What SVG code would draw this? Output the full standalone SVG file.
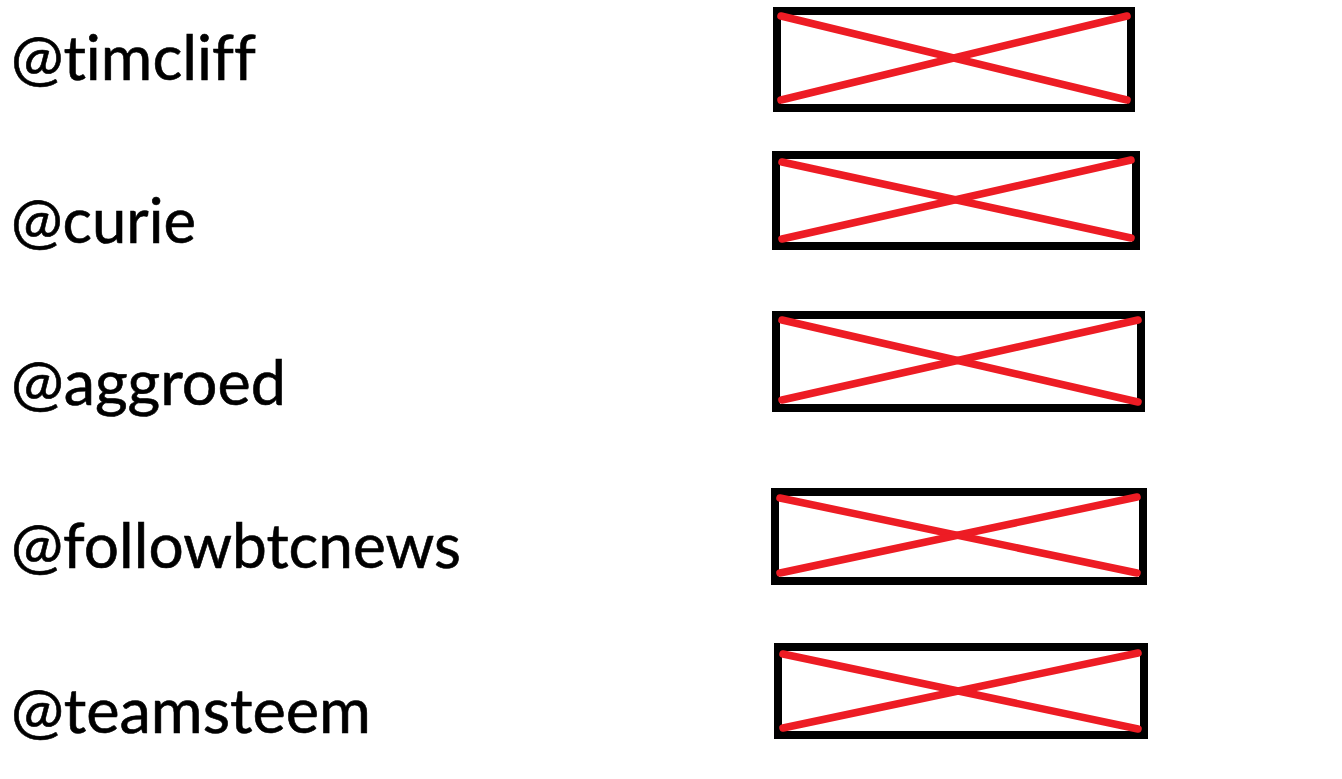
<svg xmlns="http://www.w3.org/2000/svg" width="1342" height="779" viewBox="0 0 1342 779">
<style>
.lbl{font-family:Lato,"Open Sans","Liberation Sans",sans-serif;font-size:61px;fill:#000;stroke:#000;stroke-width:0.6;font-variant-ligatures:none;font-feature-settings:"liga" 0,"dlig" 0}
.box{fill:#fff;stroke:#000;stroke-width:8}
.x{stroke:#ED1C24;stroke-width:7.5;stroke-linecap:round;fill:none}
</style>
<rect width="1342" height="779" fill="#fff"/>
<g id="labels">
<text id="t1" class="lbl" x="11" y="80" textLength="245" lengthAdjust="spacingAndGlyphs">@timcliff</text>
<text id="t2" class="lbl" x="11" y="243" textLength="185" lengthAdjust="spacingAndGlyphs">@curie</text>
<text id="t3" class="lbl" x="11" y="405" textLength="275" lengthAdjust="spacingAndGlyphs">@aggroed</text>
<text id="t4" class="lbl" x="11" y="568" textLength="450" lengthAdjust="spacingAndGlyphs">@followbtcnews</text>
<text id="t5" class="lbl" x="11" y="733" textLength="360" lengthAdjust="spacingAndGlyphs">@teamsteem</text>
</g>
<g id="box1">
<rect class="box" x="777" y="11" width="354" height="97"/>
<line class="x" x1="781" y1="16" x2="1127" y2="100"/>
<line class="x" x1="781" y1="100" x2="1127" y2="16"/>
</g>
<g id="box2">
<rect class="box" x="776" y="155" width="360" height="91"/>
<line class="x" x1="782" y1="162" x2="1131" y2="238"/>
<line class="x" x1="782" y1="239" x2="1131" y2="160"/>
</g>
<g id="box3">
<rect class="box" x="776" y="315" width="365" height="93"/>
<line class="x" x1="782" y1="320" x2="1138" y2="402"/>
<line class="x" x1="782" y1="400" x2="1138" y2="320"/>
</g>
<g id="box4">
<rect class="box" x="775" y="492" width="368" height="89"/>
<line class="x" x1="780" y1="498" x2="1137" y2="573"/>
<line class="x" x1="780" y1="573" x2="1137" y2="497"/>
</g>
<g id="box5">
<rect class="box" x="778" y="647" width="366" height="88"/>
<line class="x" x1="783" y1="654" x2="1138" y2="729"/>
<line class="x" x1="783" y1="728" x2="1138" y2="653"/>
</g>
</svg>
